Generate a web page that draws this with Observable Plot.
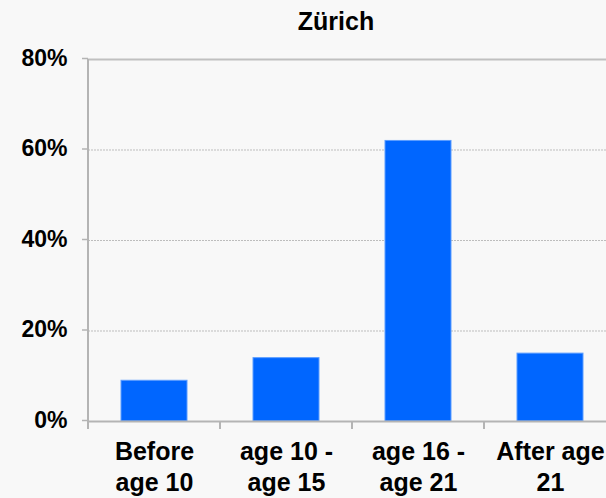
<!DOCTYPE html>
<html>
<head>
<meta charset="utf-8">
<script src="https://cdn.jsdelivr.net/npm/d3@7"></script>
<script src="https://cdn.jsdelivr.net/npm/@observablehq/plot@0.6"></script>
<style>
  html, body { margin: 0; padding: 0; background: #f8f8f8; overflow: hidden; }
  body { width: 606px; height: 498px; font-family: "Liberation Sans", Arial, sans-serif; }
  #title { height: 40px; width: 672px; text-align: center; font-weight: bold; font-size: 25px; line-height: 42px; color: #000; }
</style>
</head>
<body>
<div id="title"></div>
<div id="chart"></div>
<script>
const title = "Zürich";
const categories = ["Before\nage 10", "age 10 -\nage 15", "age 16 -\nage 21", "After age\n21"];
const values = [9, 14, 62, 15];
const yTicks = [0, 20, 40, 60, 80];
const gridTicks = [20, 40, 60];

document.getElementById("title").textContent = title;
const data = categories.map((c, i) => ({category: c, value: values[i]}));

// category boundary ticks and vertical axis line, drawn through the scales
function boundaryMark(index, scales, vals, dims) {
  const sc = (scales && scales.x) ? scales : arguments[0];
  const x = sc.x, y = sc.y;
  const bw = typeof x.bandwidth === "function" ? x.bandwidth() : sc.scales.x.bandwidth;
  const step = typeof x.step === "function" ? x.step() : sc.scales.x.step;
  const half = (step - bw) / 2;
  const g = d3.create("svg:g").attr("stroke", "#b4b4b4").attr("stroke-width", 2);
  const y0 = y(0), yTop = y(80);
  const xs = categories.map(c => x(c) - half);
  xs.push(x(categories[categories.length - 1]) + bw + half);
  xs.forEach(px => g.append("line").attr("x1", px).attr("x2", px).attr("y1", y0).attr("y2", y0 + 8));
  g.append("line").attr("x1", xs[0]).attr("x2", xs[0]).attr("y1", yTop).attr("y2", y0);
  return g.node();
}

const chart = Plot.plot({
  width: 606,
  height: 458,
  marginLeft: 88,
  marginRight: 0,
  marginTop: 19,
  marginBottom: 77,
  style: {background: "transparent", fontFamily: "'Liberation Sans', Arial, sans-serif", fontWeight: "bold", color: "#000", overflow: "visible"},
  x: {domain: categories, range: [88, 616], paddingInner: 0.5, paddingOuter: 0.25, axis: null},
  y: {domain: [0, 80], axis: null},
  marks: [
    Plot.ruleY(gridTicks, {stroke: "#bdbdbd", strokeDasharray: "2,1", strokeWidth: 1}),
    Plot.ruleY([80], {stroke: "#c0c0c0", strokeWidth: 2}),
    Plot.barY(data, {x: "category", y: "value", fill: "#0066ff", stroke: "#5c9dff", strokeWidth: 1}),
    Plot.ruleY([0], {stroke: "#b4b4b4", strokeWidth: 2}),
    Plot.axisY(yTicks, {label: null, tickSize: 6, tickPadding: 15, tickFormat: d => d + "%", fontSize: 23, stroke: "#b4b4b4", fill: "#000", strokeWidth: 1.5, dy: -1}),
    Plot.axisX({label: null, tickSize: 0, tickPadding: 16, fontSize: 25, lineHeight: 1.24, fill: "#000", tickFormat: d => d}),
    boundaryMark
  ]
});
document.getElementById("chart").appendChild(chart);
</script>
</body>
</html>
